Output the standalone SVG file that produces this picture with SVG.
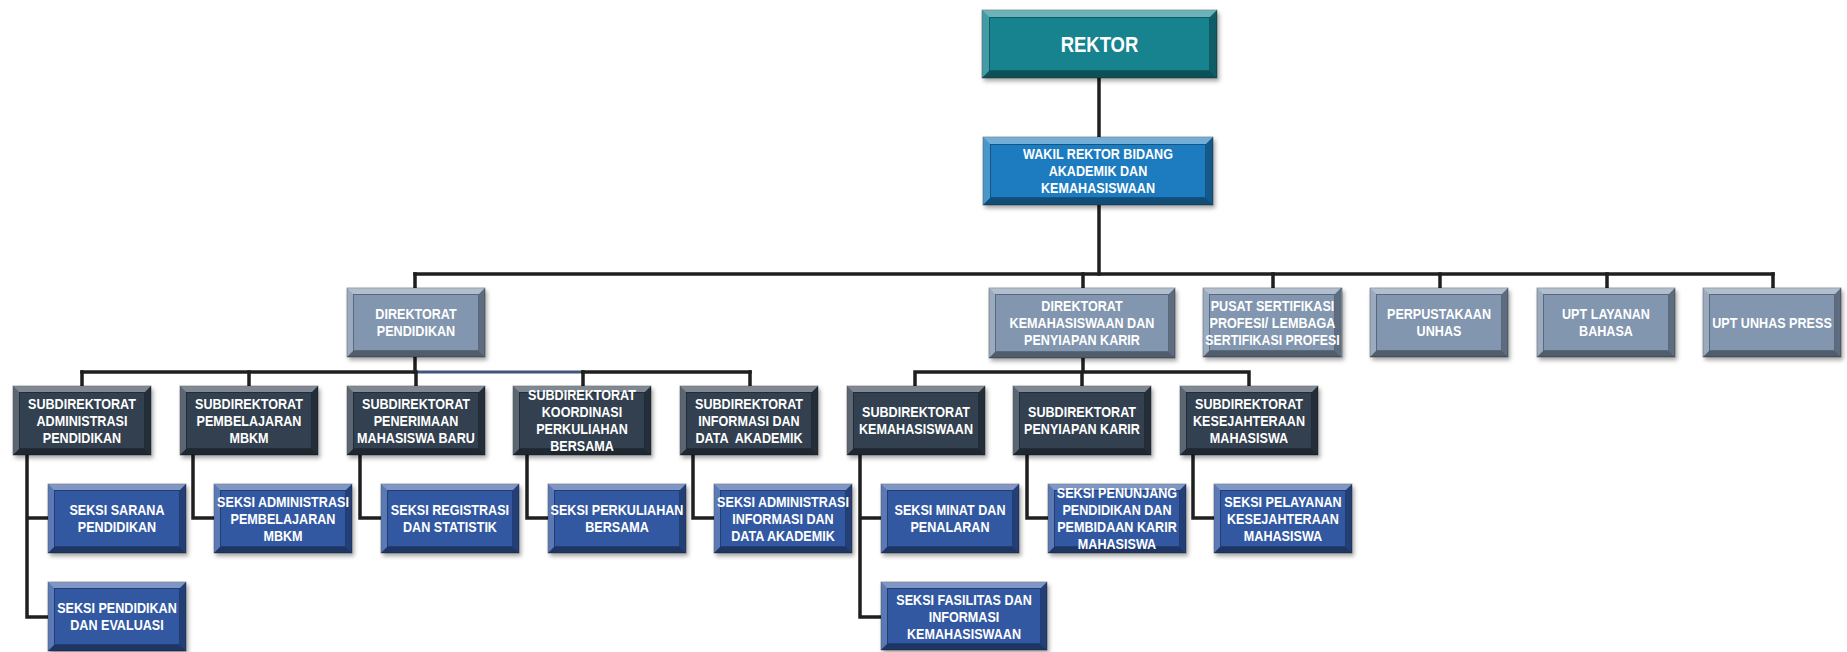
<svg xmlns="http://www.w3.org/2000/svg" xmlns:xlink="http://www.w3.org/1999/xlink" width="1847" height="652" viewBox="0 0 1847 652">
<style>
  .bg{fill:#ffffff}
  .conn{fill:none;stroke:#1f1f1f;stroke-width:3.5;stroke-linecap:square}
  .conn-blue{fill:none;stroke:#44527e;stroke-width:3}
  .lbl{font-family:"Liberation Sans",Arial,sans-serif;font-weight:bold;font-size:15px;fill:#ffffff;text-anchor:middle}
  .big{font-size:22px}
  .rektor .face{fill:#18838f}
  .wakil .face{fill:#1d7bbf}
  .dir .face{fill:#8296af}
  .sub .face{fill:#323f50}
  .seksi .face{fill:#3259a2}
  .face{stroke:#1a1a1a;stroke-opacity:0.35;stroke-width:1}
  .hi{fill:#ffffff;fill-opacity:0.38}
  .hl{fill:#ffffff;fill-opacity:0.2}
  .sd{fill:#000000;fill-opacity:0.38}
  .sr{fill:#000000;fill-opacity:0.28}
  .inner{fill:none;stroke:#000000;stroke-opacity:0.3;stroke-width:1}
</style>
<defs>
  <filter id="shadow" x="-10%" y="-10%" width="125%" height="135%">
    <feDropShadow dx="2" dy="3" stdDeviation="2" flood-color="#000000" flood-opacity="0.35"/>
  </filter>
  <g id="bev-std">
    <path class="hi" d="M0,0 H138 L132,6 H6 Z"/>
    <path class="hl" d="M0,0 L6,6 V63 L0,69 Z"/>
    <path class="sd" d="M0,69 L6,63 H132 L138,69 Z"/>
    <path class="sr" d="M138,0 V69 L132,63 V6 Z"/>
    <rect class="inner" x="6.5" y="6.5" width="125" height="56"/>
  </g>
  <g id="bev-dk">
    <path class="hi" d="M0,0 H186 L180,6 H6 Z"/>
    <path class="hl" d="M0,0 L6,6 V64 L0,70 Z"/>
    <path class="sd" d="M0,70 L6,64 H180 L186,70 Z"/>
    <path class="sr" d="M186,0 V70 L180,64 V6 Z"/>
    <rect class="inner" x="6.5" y="6.5" width="173" height="57"/>
  </g>
  <g id="bev-rk">
    <path class="hi" d="M0,0 H235 L228,7 H7 Z"/>
    <path class="hl" d="M0,0 L7,7 V61 L0,68 Z"/>
    <path class="sd" d="M0,68 L7,61 H228 L235,68 Z"/>
    <path class="sr" d="M235,0 V68 L228,61 V7 Z"/>
    <rect class="inner" x="7.5" y="7.5" width="220" height="53"/>
  </g>
  <g id="bev-wk">
    <path class="hi" d="M0,0 H230 L223,7 H7 Z"/>
    <path class="hl" d="M0,0 L7,7 V61 L0,68 Z"/>
    <path class="sd" d="M0,68 L7,61 H223 L230,68 Z"/>
    <path class="sr" d="M230,0 V68 L223,61 V7 Z"/>
    <rect class="inner" x="7.5" y="7.5" width="215" height="53"/>
  </g>
  <g id="bev-fas">
    <path class="hi" d="M0,0 H166 L160,6 H6 Z"/>
    <path class="hl" d="M0,0 L6,6 V62 L0,68 Z"/>
    <path class="sd" d="M0,68 L6,62 H160 L166,68 Z"/>
    <path class="sr" d="M166,0 V68 L160,62 V6 Z"/>
    <rect class="inner" x="6.5" y="6.5" width="153" height="55"/>
  </g>
</defs>
<rect class="bg" x="0" y="0" width="1847" height="652"/>

<g id="connectors">
  <path class="conn" d="M1099,78 V137"/>
  <path class="conn" d="M1099,205 V274"/>
  <path class="conn" d="M415,274 H1773"/>
  <path class="conn" d="M415,274 V288 M1083,274 V288 M1273,274 V288 M1440,274 V288 M1607,274 V288 M1773,274 V288"/>
  <path class="conn" d="M415,357 V372"/>
  <path class="conn" d="M82,372 H415"/>
  <path class="conn-blue" d="M415,372 H583"/>
  <path class="conn" d="M583,372 H750"/>
  <path class="conn" d="M82,372 V386 M249,372 V386 M416,372 V386 M583,372 V386 M750,372 V386"/>
  <path class="conn" d="M1083,358 V372 M915,372 H1249 M915,372 V386 M1082,372 V386 M1249,372 V386"/>
  <path class="conn" d="M27,455 V617 H48 M27,518 H48"/>
  <path class="conn" d="M193,455 V518 H214"/>
  <path class="conn" d="M360,455 V518 H381"/>
  <path class="conn" d="M527,455 V518 H548"/>
  <path class="conn" d="M693,455 V518 H714"/>
  <path class="conn" d="M860,455 V617 H881 M860,518 H881"/>
  <path class="conn" d="M1027,455 V518 H1048"/>
  <path class="conn" d="M1193,455 V518 H1214"/>
</g>

<g id="rektor" class="rektor">
  <rect class="face" x="982" y="10" width="235" height="68" filter="url(#shadow)"/>
  <use href="#bev-rk" x="982" y="10"/>
  <text class="lbl big" transform="matrix(0.84 0 0 1 175.92 0)" x="1099.5" y="52">REKTOR</text>
</g>

<g id="wakil-rektor" class="wakil">
  <rect class="face" x="983" y="137" width="230" height="68" filter="url(#shadow)"/>
  <use href="#bev-wk" x="983" y="137"/>
  <text class="lbl" transform="matrix(0.84 0 0 1 175.68 0)"><tspan x="1098" y="159.5">WAKIL REKTOR BIDANG</tspan><tspan x="1098" y="176.5">AKADEMIK DAN</tspan><tspan x="1098" y="193.5">KEMAHASISWAAN</tspan></text>
</g>

<g id="dir-pendidikan" class="dir">
  <rect class="face" x="347" y="288" width="138" height="69" filter="url(#shadow)"/>
  <use href="#bev-std" x="347" y="288"/>
  <text class="lbl" transform="matrix(0.84 0 0 1 66.56 0)"><tspan x="416" y="319.5">DIREKTORAT</tspan><tspan x="416" y="336.5">PENDIDIKAN</tspan></text>
</g>

<g id="dir-kemahasiswaan" class="dir">
  <rect class="face" x="989" y="288" width="186" height="70" filter="url(#shadow)"/>
  <use href="#bev-dk" x="989" y="288"/>
  <text class="lbl" transform="matrix(0.84 0 0 1 173.12 0)"><tspan x="1082" y="311">DIREKTORAT</tspan><tspan x="1082" y="328">KEMAHASISWAAN DAN</tspan><tspan x="1082" y="345">PENYIAPAN KARIR</tspan></text>
</g>

<g id="pusat-sertifikasi" class="dir">
  <rect class="face" x="1203" y="288" width="139" height="69" filter="url(#shadow)"/>
  <use href="#bev-std" x="1203" y="288"/>
  <text class="lbl" transform="matrix(0.84 0 0 1 203.6 0)"><tspan x="1272.5" y="311">PUSAT SERTIFIKASI</tspan><tspan x="1272.5" y="328">PROFESI/ LEMBAGA</tspan></text>
  <text class="lbl" transform="matrix(0.84 0 0 1 203.6 0)" x="1272.5" y="345" textLength="160" lengthAdjust="spacingAndGlyphs">SERTIFIKASI PROFESI</text>
</g>

<g id="perpustakaan" class="dir">
  <rect class="face" x="1370" y="288" width="138" height="69" filter="url(#shadow)"/>
  <use href="#bev-std" x="1370" y="288"/>
  <text class="lbl" transform="matrix(0.84 0 0 1 230.24 0)"><tspan x="1439" y="319.5">PERPUSTAKAAN</tspan><tspan x="1439" y="336.5">UNHAS</tspan></text>
</g>

<g id="upt-layanan-bahasa" class="dir">
  <rect class="face" x="1537" y="288" width="138" height="69" filter="url(#shadow)"/>
  <use href="#bev-std" x="1537" y="288"/>
  <text class="lbl" transform="matrix(0.84 0 0 1 256.96 0)"><tspan x="1606" y="319.5">UPT LAYANAN</tspan><tspan x="1606" y="336.5">BAHASA</tspan></text>
</g>

<g id="upt-unhas-press" class="dir">
  <rect class="face" x="1703" y="288" width="138" height="69" filter="url(#shadow)"/>
  <use href="#bev-std" x="1703" y="288"/>
  <text class="lbl" transform="matrix(0.84 0 0 1 283.52 0)" x="1772" y="328">UPT UNHAS PRESS</text>
</g>

<g id="sub-administrasi" class="sub">
  <rect class="face" x="13" y="386" width="138" height="69" filter="url(#shadow)"/>
  <use href="#bev-std" x="13" y="386"/>
  <text class="lbl" transform="matrix(0.84 0 0 1 13.12 0)"><tspan x="82" y="409">SUBDIREKTORAT</tspan><tspan x="82" y="426">ADMINISTRASI</tspan><tspan x="82" y="443">PENDIDIKAN</tspan></text>
</g>

<g id="sub-pembelajaran" class="sub">
  <rect class="face" x="180" y="386" width="138" height="69" filter="url(#shadow)"/>
  <use href="#bev-std" x="180" y="386"/>
  <text class="lbl" transform="matrix(0.84 0 0 1 39.84 0)"><tspan x="249" y="409">SUBDIREKTORAT</tspan><tspan x="249" y="426">PEMBELAJARAN</tspan><tspan x="249" y="443">MBKM</tspan></text>
</g>

<g id="sub-penerimaan" class="sub">
  <rect class="face" x="347" y="386" width="138" height="69" filter="url(#shadow)"/>
  <use href="#bev-std" x="347" y="386"/>
  <text class="lbl" transform="matrix(0.84 0 0 1 66.56 0)"><tspan x="416" y="409">SUBDIREKTORAT</tspan><tspan x="416" y="426">PENERIMAAN</tspan><tspan x="416" y="443">MAHASISWA BARU</tspan></text>
</g>

<g id="sub-koordinasi" class="sub">
  <rect class="face" x="513" y="386" width="138" height="69" filter="url(#shadow)"/>
  <use href="#bev-std" x="513" y="386"/>
  <text class="lbl" transform="matrix(0.84 0 0 1 93.12 0)"><tspan x="582" y="400.5">SUBDIREKTORAT</tspan><tspan x="582" y="417.3">KOORDINASI</tspan><tspan x="582" y="434">PERKULIAHAN</tspan><tspan x="582" y="450.8">BERSAMA</tspan></text>
</g>

<g id="sub-informasi" class="sub">
  <rect class="face" x="680" y="386" width="138" height="69" filter="url(#shadow)"/>
  <use href="#bev-std" x="680" y="386"/>
  <text class="lbl" style="white-space:pre" transform="matrix(0.84 0 0 1 119.84 0)"><tspan x="749" y="409">SUBDIREKTORAT</tspan><tspan x="749" y="426">INFORMASI DAN</tspan><tspan x="749" y="443">DATA  AKADEMIK</tspan></text>
</g>

<g id="sub-kemahasiswaan" class="sub">
  <rect class="face" x="847" y="386" width="138" height="69" filter="url(#shadow)"/>
  <use href="#bev-std" x="847" y="386"/>
  <text class="lbl" transform="matrix(0.84 0 0 1 146.56 0)"><tspan x="916" y="417.5">SUBDIREKTORAT</tspan><tspan x="916" y="434.5">KEMAHASISWAAN</tspan></text>
</g>

<g id="sub-penyiapan-karir" class="sub">
  <rect class="face" x="1013" y="386" width="138" height="69" filter="url(#shadow)"/>
  <use href="#bev-std" x="1013" y="386"/>
  <text class="lbl" transform="matrix(0.84 0 0 1 173.12 0)"><tspan x="1082" y="417.5">SUBDIREKTORAT</tspan><tspan x="1082" y="434.5">PENYIAPAN KARIR</tspan></text>
</g>

<g id="sub-kesejahteraan" class="sub">
  <rect class="face" x="1180" y="386" width="138" height="69" filter="url(#shadow)"/>
  <use href="#bev-std" x="1180" y="386"/>
  <text class="lbl" transform="matrix(0.84 0 0 1 199.84 0)"><tspan x="1249" y="409">SUBDIREKTORAT</tspan><tspan x="1249" y="426">KESEJAHTERAAN</tspan><tspan x="1249" y="443">MAHASISWA</tspan></text>
</g>

<g id="seksi-sarana" class="seksi">
  <rect class="face" x="48" y="484" width="138" height="69" filter="url(#shadow)"/>
  <use href="#bev-std" x="48" y="484"/>
  <text class="lbl" transform="matrix(0.84 0 0 1 18.72 0)"><tspan x="117" y="515.5">SEKSI SARANA</tspan><tspan x="117" y="532.5">PENDIDIKAN</tspan></text>
</g>

<g id="seksi-pendidikan-evaluasi" class="seksi">
  <rect class="face" x="48" y="582" width="138" height="69" filter="url(#shadow)"/>
  <use href="#bev-std" x="48" y="582"/>
  <text class="lbl" transform="matrix(0.84 0 0 1 18.72 0)"><tspan x="117" y="613.5">SEKSI PENDIDIKAN</tspan><tspan x="117" y="630.5">DAN EVALUASI</tspan></text>
</g>

<g id="seksi-admin-pembelajaran" class="seksi">
  <rect class="face" x="214" y="484" width="138" height="69" filter="url(#shadow)"/>
  <use href="#bev-std" x="214" y="484"/>
  <text class="lbl" transform="matrix(0.84 0 0 1 45.28 0)"><tspan x="283" y="507">SEKSI ADMINISTRASI</tspan><tspan x="283" y="524">PEMBELAJARAN</tspan><tspan x="283" y="541">MBKM</tspan></text>
</g>

<g id="seksi-registrasi" class="seksi">
  <rect class="face" x="381" y="484" width="138" height="69" filter="url(#shadow)"/>
  <use href="#bev-std" x="381" y="484"/>
  <text class="lbl" transform="matrix(0.84 0 0 1 72 0)"><tspan x="450" y="515.5">SEKSI REGISTRASI</tspan><tspan x="450" y="532.5">DAN STATISTIK</tspan></text>
</g>

<g id="seksi-perkuliahan" class="seksi">
  <rect class="face" x="548" y="484" width="138" height="69" filter="url(#shadow)"/>
  <use href="#bev-std" x="548" y="484"/>
  <text class="lbl" transform="matrix(0.84 0 0 1 98.72 0)"><tspan x="617" y="515.5">SEKSI PERKULIAHAN</tspan><tspan x="617" y="532.5">BERSAMA</tspan></text>
</g>

<g id="seksi-admin-informasi" class="seksi">
  <rect class="face" x="714" y="484" width="138" height="69" filter="url(#shadow)"/>
  <use href="#bev-std" x="714" y="484"/>
  <text class="lbl" transform="matrix(0.84 0 0 1 125.28 0)"><tspan x="783" y="507">SEKSI ADMINISTRASI</tspan><tspan x="783" y="524">INFORMASI DAN</tspan><tspan x="783" y="541">DATA AKADEMIK</tspan></text>
</g>

<g id="seksi-minat" class="seksi">
  <rect class="face" x="881" y="484" width="138" height="69" filter="url(#shadow)"/>
  <use href="#bev-std" x="881" y="484"/>
  <text class="lbl" transform="matrix(0.84 0 0 1 152 0)"><tspan x="950" y="515.5">SEKSI MINAT DAN</tspan><tspan x="950" y="532.5">PENALARAN</tspan></text>
</g>

<g id="seksi-fasilitas" class="seksi">
  <rect class="face" x="881" y="582" width="166" height="68" filter="url(#shadow)"/>
  <use href="#bev-fas" x="881" y="582"/>
  <text class="lbl" transform="matrix(0.84 0 0 1 154.24 0)"><tspan x="964" y="605">SEKSI FASILITAS DAN</tspan><tspan x="964" y="622">INFORMASI</tspan><tspan x="964" y="639">KEMAHASISWAAN</tspan></text>
</g>

<g id="seksi-penunjang" class="seksi">
  <rect class="face" x="1048" y="484" width="138" height="69" filter="url(#shadow)"/>
  <use href="#bev-std" x="1048" y="484"/>
  <text class="lbl" transform="matrix(0.84 0 0 1 178.72 0)"><tspan x="1117" y="498.5">SEKSI PENUNJANG</tspan><tspan x="1117" y="515.3">PENDIDIKAN DAN</tspan><tspan x="1117" y="532">PEMBIDAAN KARIR</tspan><tspan x="1117" y="548.8">MAHASISWA</tspan></text>
</g>

<g id="seksi-pelayanan" class="seksi">
  <rect class="face" x="1214" y="484" width="138" height="69" filter="url(#shadow)"/>
  <use href="#bev-std" x="1214" y="484"/>
  <text class="lbl" transform="matrix(0.84 0 0 1 205.28 0)"><tspan x="1283" y="507">SEKSI PELAYANAN</tspan><tspan x="1283" y="524">KESEJAHTERAAN</tspan><tspan x="1283" y="541">MAHASISWA</tspan></text>
</g>
</svg>
